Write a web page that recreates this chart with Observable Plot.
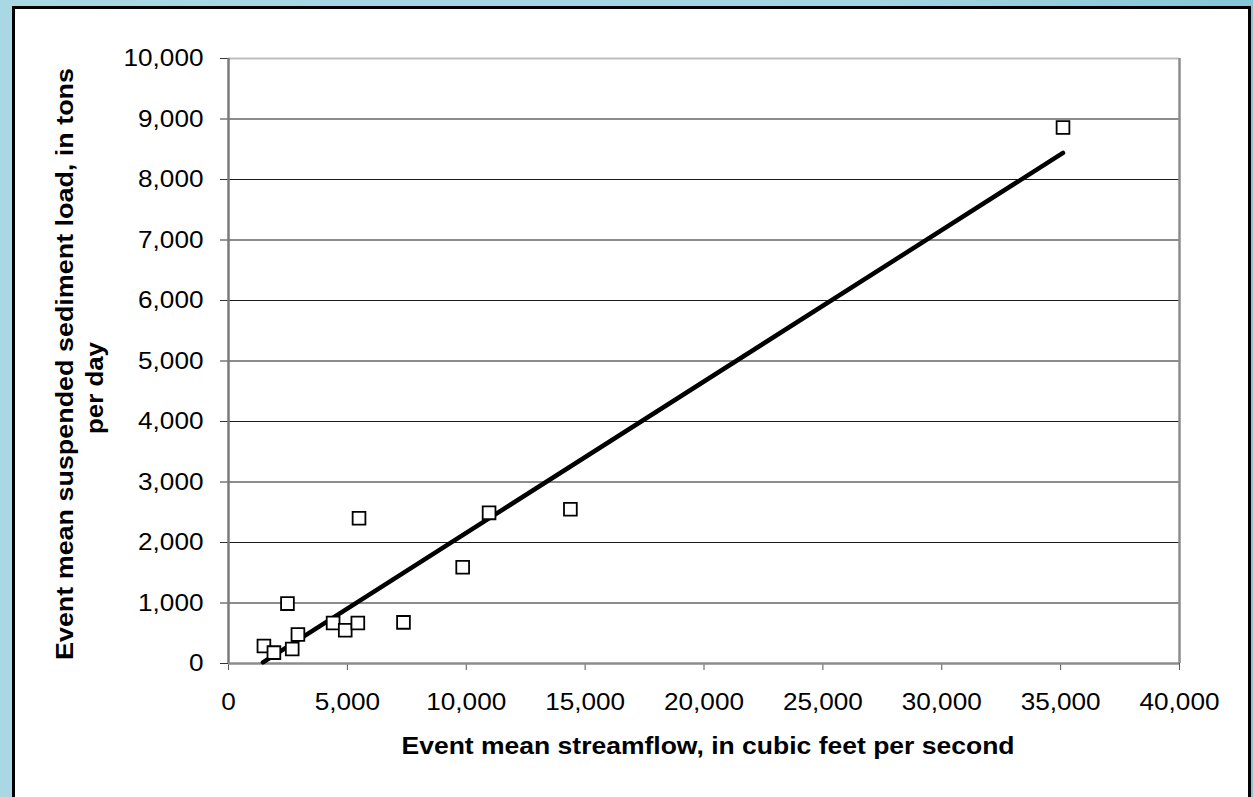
<!DOCTYPE html>
<html>
<head>
<meta charset="utf-8">
<script src="https://cdn.jsdelivr.net/npm/d3@7"></script>
<script src="https://cdn.jsdelivr.net/npm/@observablehq/plot@0.6"></script>
<style>
  html, body { margin: 0; padding: 0; }
  body { width: 1253px; height: 797px; overflow: hidden; background: linear-gradient(90deg, #a9d8e4 0%, #a3d4e2 70%, #86c6d7 100%); }
  #wrap { position: relative; width: 1253px; height: 797px; }
  #panel { position: absolute; left: 12px; top: 6px; width: 1233px; height: 820px; background: #fff; border: 3px solid #000; box-sizing: content-box; }
  #chart { position: absolute; left: 0; top: 0; }
  #chart svg { background: transparent; }
</style>
</head>
<body>
<div id="wrap"><div id="panel"></div><div id="chart"></div></div>
<script>
// Event mean streamflow (cfs) and suspended sediment load (tons/day)
const flow = [1490, 1910, 2480, 2920, 2680, 4400, 4910, 5440, 5490, 7360, 9850, 10960, 14380, 35100];
const load = [290, 180, 990, 480, 240, 670, 550, 670, 2400, 680, 1590, 2490, 2550, 8860];
// Fitted line end points
const fitFlow = [1450, 35100];
const fitLoad = [20, 8440];
const xTicks = [0, 5000, 10000, 15000, 20000, 25000, 30000, 35000, 40000];
const yTicks = [0, 1000, 2000, 3000, 4000, 5000, 6000, 7000, 8000, 9000, 10000];
const gridTicks = [1000, 2000, 3000, 4000, 5000, 6000, 7000, 8000, 9000];
const xTitle = "Event mean streamflow, in cubic feet per second";
const yTitle1 = "Event mean suspended sediment load, in tons";
const yTitle2 = "per day";

const points = flow.map((f, i) => ({flow: f, load: load[i]}));
const fit = fitFlow.map((f, i) => ({flow: f, load: fitLoad[i]}));
const fmt = d3.format(",");

const plot = Plot.plot({
  width: 1253,
  height: 797,
  marginLeft: 228,
  marginRight: 74,
  marginTop: 58,
  marginBottom: 134,
  style: {fontFamily: "'Liberation Sans', Arial, sans-serif", fontSize: "24px", color: "#000", background: "transparent"},
  x: {domain: [0, 40000]},
  y: {domain: [0, 10000]},
  marks: [
    Plot.ruleY(gridTicks, {stroke: "#1a1a1a", strokeWidth: 1.2}),
    Plot.ruleY([10000], {stroke: "#bdbdbd", strokeWidth: 2}),
    Plot.ruleX([40000], {stroke: "#8c8c8c", strokeWidth: 2.5}),
    Plot.axisX({ticks: xTicks, tickFormat: fmt, tickSize: 7, tickPadding: 22, stroke: "#555", label: null, fontSize: 24}),
    Plot.axisY({ticks: yTicks, tickFormat: fmt, tickSize: 8, tickPadding: 17, stroke: "#333", label: null, fontSize: 24}),
    Plot.ruleX([0], {stroke: "#7a7a7a", strokeWidth: 2.5}),
    Plot.ruleY([0], {stroke: "#8c8c8c", strokeWidth: 2.5}),
    Plot.line(fit, {x: "flow", y: "load", stroke: "#000", strokeWidth: 4.5, strokeLinecap: "round"}),
    Plot.dot(points, {x: "flow", y: "load", symbol: "square", r: 7.2, fill: "#fff", stroke: "#000", strokeWidth: 1.8})
  ]
});

document.getElementById("chart").appendChild(plot);
const svg = d3.select(plot);

// stretch tick labels slightly horizontally, like the reference
svg.selectAll("g[aria-label='x-axis tick label'] text, g[aria-label='y-axis tick label'] text").each(function() {
  const t = d3.select(this);
  const tr = t.attr("transform") || "";
  t.attr("transform", tr + " scale(1.09,1)");
});

const titleStyle = (s) => s.attr("font-family", "'Liberation Sans', Arial, sans-serif")
  .attr("font-weight", "bold").attr("font-size", 23.5).attr("fill", "#000")
  .attr("text-anchor", "middle").attr("lengthAdjust", "spacingAndGlyphs");

svg.append("text").call(titleStyle).attr("x", 708).attr("y", 754)
  .attr("textLength", 613).text(xTitle);
svg.append("text").call(titleStyle).attr("transform", "translate(73,364) rotate(-90)")
  .attr("textLength", 592).text(yTitle1);
svg.append("text").call(titleStyle).attr("transform", "translate(103,388) rotate(-90)")
  .attr("textLength", 92).text(yTitle2);
</script>
</body>
</html>
